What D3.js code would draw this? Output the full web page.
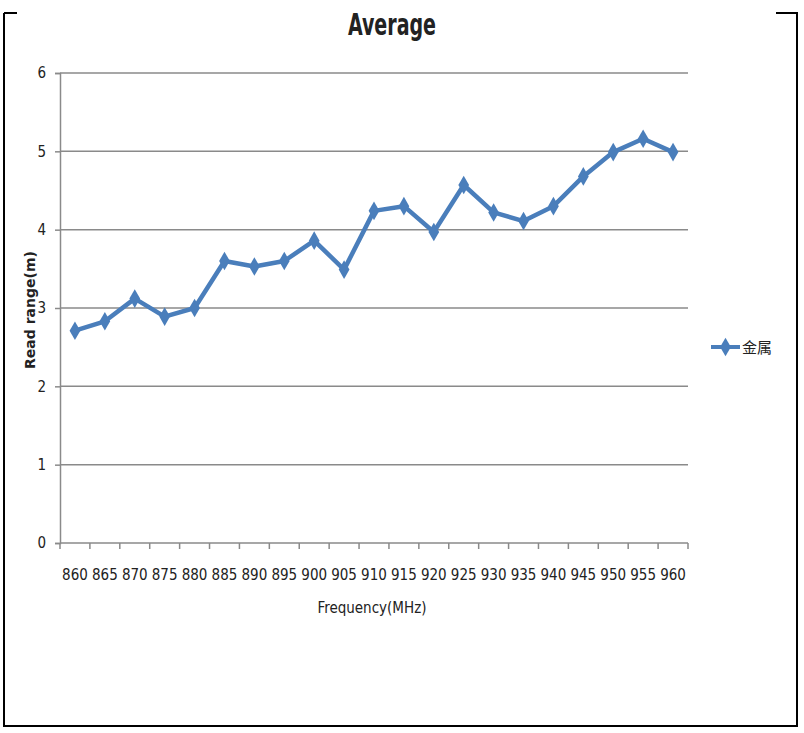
<!DOCTYPE html>
<html>
<head>
<meta charset="utf-8">
<script src="https://cdn.jsdelivr.net/npm/d3@7"></script>
<style>
  body { margin: 0; background: #fff; }
  text { font-family: "Liberation Sans Narrow", "DejaVu Sans Condensed", "Noto Sans", sans-serif; fill: #222; }
  .cjk { font-family: "Noto Sans CJK SC", sans-serif; }
</style>
</head>
<body>
<script>
const frequencies = ['860', '865', '870', '875', '880', '885', '890', '895', '900', '905',
  '910', '915', '920', '925', '930', '935', '940', '945', '950', '955', '960'];
const readRange = [2.71, 2.83, 3.12, 2.89, 3.0, 3.6, 3.53, 3.6, 3.86, 3.49,
  4.24, 4.3, 3.97, 4.57, 4.22, 4.11, 4.3, 4.68, 4.99, 5.16, 4.99];
const yTicks = [0, 1, 2, 3, 4, 5, 6];
const seriesName = '金属';

const W = 804;
const H = 733;
const margin = { top: 73, right: 116, bottom: 190, left: 60 };
const width = W - margin.left - margin.right;
const height = H - margin.top - margin.bottom;
const blue = '#4a7ebb';
const grey = '#8a8a8a';

const root = d3.select('body')
  .append('svg')
  .attr('width', W)
  .attr('height', H);

// outer frame, drawn like the pasted picture border
root.append('path')
  .attr('d', 'M4,13 H17 M776,13 H797 V726 H4 V13')
  .attr('fill', 'none')
  .attr('stroke', '#000')
  .attr('stroke-width', 2);

const svg = root.append('g')
  .attr('transform', `translate(${margin.left},${margin.top})`);

const x = d3.scaleBand()
  .domain(frequencies)
  .range([0, width]);

const y = d3.scaleLinear()
  .domain([0, 6])
  .range([height, 0]);

// gridlines
svg.append('g')
  .selectAll('line')
  .data(yTicks.filter((d) => d > 0))
  .enter().append('line')
  .attr('x1', 0)
  .attr('x2', width)
  .attr('y1', (d) => y(d))
  .attr('y2', (d) => y(d))
  .attr('stroke', grey)
  .attr('stroke-width', 1.5);

// y axis
const yAxis = svg.append('g')
  .call(d3.axisLeft(y).tickValues(yTicks).tickFormat(d3.format('d')).tickSize(5).tickPadding(9));
yAxis.select('.domain').attr('stroke', grey).attr('stroke-width', 1.5);
yAxis.selectAll('.tick line').attr('stroke', grey).attr('stroke-width', 1.5);
yAxis.selectAll('.tick text')
  .style('font-size', '15px')
  .style('font-family', '"Liberation Sans Narrow", "DejaVu Sans Condensed", sans-serif')
  .attr('fill', '#222');

// x axis: ticks between categories
const xAxisG = svg.append('g')
  .attr('transform', `translate(0,${height})`);
xAxisG.append('line')
  .attr('x1', 0).attr('x2', width)
  .attr('stroke', grey).attr('stroke-width', 1.5);
xAxisG.selectAll('.sep')
  .data(frequencies.concat(['end']))
  .enter().append('line')
  .attr('class', 'sep')
  .attr('x1', (d, i) => i * x.step())
  .attr('x2', (d, i) => i * x.step())
  .attr('y1', 0)
  .attr('y2', 6)
  .attr('stroke', grey)
  .attr('stroke-width', 1.5);
xAxisG.selectAll('.lbl')
  .data(frequencies)
  .enter().append('text')
  .attr('class', 'lbl')
  .attr('x', (d) => x(d) + x.bandwidth() / 2)
  .attr('y', 37)
  .attr('text-anchor', 'middle')
  .style('font-size', '15px')
  .text((d) => d);

// line
const line = d3.line()
  .x((d, i) => x(frequencies[i]) + x.bandwidth() / 2)
  .y((d) => y(d));

svg.append('path')
  .datum(readRange)
  .attr('d', line)
  .attr('fill', 'none')
  .attr('stroke', blue)
  .attr('stroke-width', 4.5)
  .attr('stroke-linejoin', 'round');

const diamond = d3.symbol().type(d3.symbolDiamond).size(100);
svg.selectAll('.pt')
  .data(readRange)
  .enter().append('path')
  .attr('class', 'pt')
  .attr('d', diamond)
  .attr('transform', (d, i) => `translate(${x(frequencies[i]) + x.bandwidth() / 2},${y(d)})`)
  .attr('fill', blue);

// title
root.append('text')
  .attr('x', 392)
  .attr('y', 35)
  .attr('text-anchor', 'middle')
  .attr('textLength', 88)
  .attr('lengthAdjust', 'spacingAndGlyphs')
  .style('font-size', '30px')
  .style('font-weight', 'bold')
  .text('Average');

// axis titles
root.append('text')
  .attr('transform', 'translate(35,310) rotate(-90)')
  .attr('text-anchor', 'middle')
  .style('font-size', '14px')
  .style('font-weight', 'bold')
  .style('font-family', '"DejaVu Sans", sans-serif')
  .text('Read range(m)');

root.append('text')
  .attr('x', 372)
  .attr('y', 613)
  .attr('text-anchor', 'middle')
  .style('font-size', '15px')
  .text('Frequency(MHz)');

// legend
const legend = root.append('g')
  .attr('transform', 'translate(711,347)');
legend.append('line')
  .attr('x1', 0).attr('x2', 29)
  .attr('stroke', blue).attr('stroke-width', 4);
legend.append('path')
  .attr('d', diamond)
  .attr('transform', 'translate(14.5,0)')
  .attr('fill', blue);
legend.append('text')
  .attr('class', 'cjk')
  .attr('x', 31)
  .attr('y', 6)
  .style('font-size', '15px')
  .text(seriesName);
</script>
</body>
</html>
